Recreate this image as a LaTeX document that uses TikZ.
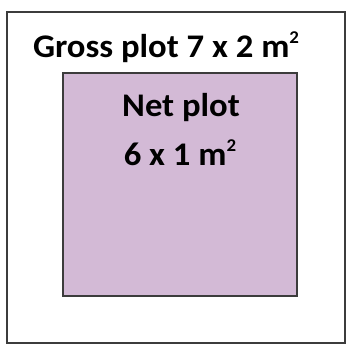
\documentclass[tikz,border=0pt]{standalone}
\usepackage{fontspec}
\setmainfont{Carlito}
\definecolor{netfill}{RGB}{211,186,214}
\definecolor{edge}{RGB}{60,60,60}
\newcommand{\sqsup}{\raisebox{13.5pt}{\fontsize{18}{20}\selectfont 2}}
\begin{document}
\begin{tikzpicture}[x=1pt,y=-1pt,
  plotbox/.style={draw=edge,line width=1.2pt},
  lbl/.style={font=\bfseries\fontsize{33}{38}\selectfont,inner sep=0pt,text=black,xscale=1.05}]
\useasboundingbox (0,0) rectangle (347,353);
\draw[plotbox] (7,12) rectangle (345,343);
\draw[plotbox,fill=netfill] (63,73) rectangle (297,296);
\node[lbl,anchor=base] (gross) at (166,57) {Gross plot 7 x 2 m\sqsup};
\node[lbl,anchor=base] (net) at (181,116) {Net plot};
\node[lbl,anchor=base] (size) at (180,165) {6 x 1 m\sqsup};
\end{tikzpicture}
\end{document}
